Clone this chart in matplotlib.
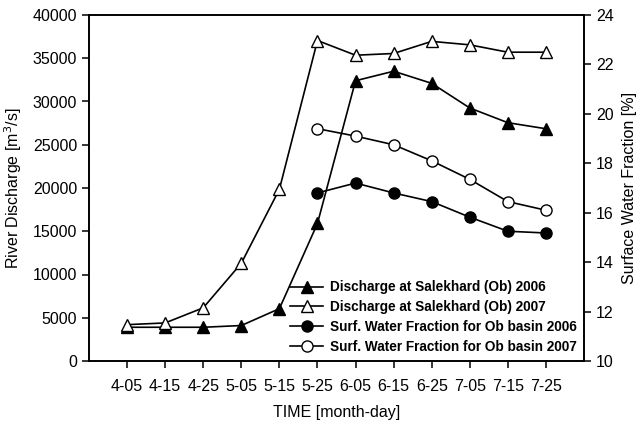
import matplotlib
matplotlib.use("Agg")
import matplotlib.pyplot as plt

plt.rcParams['font.family'] = ['Liberation Sans', 'DejaVu Sans']

dates = ["4-05", "4-15", "4-25", "5-05", "5-15", "5-25", "6-05", "6-15", "6-25", "7-05", "7-15", "7-25"]
discharge_2006 = [3900, 3900, 3900, 4100, 6050, 15900, 32400, 33500, 32100, 29250, 27550, 26850]
discharge_2007 = [4200, 4400, 6150, 11300, 19850, 37050, 35350, 35550, 36950, 36550, 35700, 35700]
swf_dates = ["5-25", "6-05", "6-15", "6-25", "7-05", "7-15", "7-25"]
swf_2006 = [16.8, 17.2, 16.8, 16.45, 15.82, 15.25, 15.18]
swf_2007 = [19.4, 19.1, 18.75, 18.1, 17.35, 16.45, 16.1]

x = list(range(len(dates)))
xs = [dates.index(d) for d in swf_dates]

fig = plt.figure(figsize=(6.36, 4.23), dpi=100)
ax = fig.add_axes([89/636, 1-361/423, (584-89)/636, (361-15)/423])
ax2 = ax.twinx()

ms = 8
l1, = ax.plot(x, discharge_2006, '-^', color='black', mfc='black', mec='black', ms=ms, lw=1.2,
              label='Discharge at Salekhard (Ob) 2006')
l2, = ax.plot(x, discharge_2007, '-^', color='black', mfc='white', mec='black', ms=ms, lw=1.2,
              label='Discharge at Salekhard (Ob) 2007')
l3, = ax2.plot(xs, swf_2006, '-o', color='black', mfc='black', mec='black', ms=ms, lw=1.2,
               label='Surf. Water Fraction for Ob basin 2006')
l4, = ax2.plot(xs, swf_2007, '-o', color='black', mfc='white', mec='black', ms=ms, lw=1.2,
               label='Surf. Water Fraction for Ob basin 2007')

ax.set_xlim(-1, 12)
ax.set_ylim(0, 40000)
ax.set_yticks(range(0, 40001, 5000))
ax2.set_ylim(10, 24)
ax2.set_yticks(range(10, 25, 2))
ax.set_xticks(x)
ax.set_xticklabels(dates)

for a in (ax, ax2):
    for s in a.spines.values():
        s.set_linewidth(1.2)
    a.tick_params(direction='out', length=5, width=1.1, labelsize=11.5)
ax.tick_params(axis='x', pad=8)

ax.set_xlabel('TIME [month-day]', fontsize=11.5, labelpad=8)
ax.set_ylabel('River Discharge [m$^3$/s]', fontsize=11.5, labelpad=6)
ax2.set_ylabel('Surface Water Fraction [%]', fontsize=11.5, labelpad=6)

leg = ax2.legend(handles=[l1, l2, l3, l4], loc='lower right', frameon=False,
                 prop={'weight': 'bold', 'size': 9.8}, handlelength=2.4,
                 handletextpad=0.5, labelspacing=0.42, borderaxespad=0.15)

fig.savefig('out.png', dpi=100)
